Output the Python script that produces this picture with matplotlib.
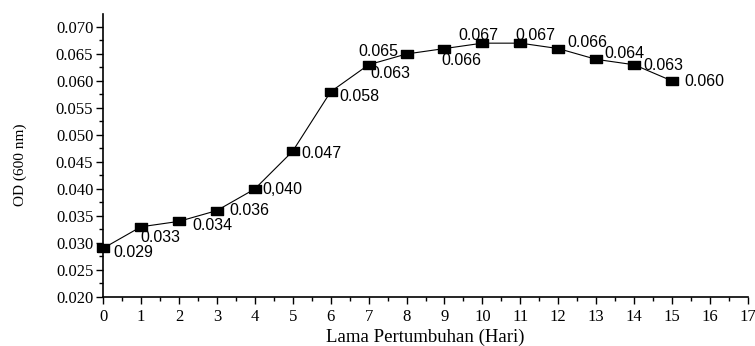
import matplotlib
matplotlib.use("Agg")
import matplotlib.pyplot as plt
from matplotlib.ticker import MultipleLocator

days = list(range(16))
od = [0.029, 0.033, 0.034, 0.036, 0.040, 0.047, 0.058, 0.063,
      0.065, 0.066, 0.067, 0.067, 0.066, 0.064, 0.063, 0.060]
point_labels = ["0.029", "0.033", "0.034", "0.036", "0,040", "0.047", "0.058", "0.063",
                "0.065", "0.066", "0.067", "0.067", "0.066", "0.064", "0.063", "0.060"]
x_ticks = list(range(18))
y_ticks = [0.020, 0.025, 0.030, 0.035, 0.040, 0.045, 0.050, 0.055, 0.060, 0.065, 0.070]

# label offsets in pixels (dx, dy) and horizontal alignment
offsets = [(10, -4, "left"), (-1, -11, "left"), (13, -4, "left"), (13, 0, "left"),
           (8, -1, "left"), (9, -2, "left"), (9, -5, "left"), (2, -9, "left"),
           (-8, 2, "right"), (-3, -12, "left"), (-24, 8, "left"), (-5, 8, "left"),
           (9, 6, "left"), (8, 6, "left"), (9, -1, "left"), (12, -1, "left")]

fig = plt.figure(figsize=(7.55, 3.46), dpi=100)
ax = fig.add_axes([103 / 755, 1 - 297 / 346, 645 / 755, 283 / 346])

rect = [(-1, -0.7), (1, -0.7), (1, 0.7), (-1, 0.7), (-1, -0.7)]
ax.plot(days, od, color="black", linewidth=0.8, marker=rect, markersize=8,
        markerfacecolor="black", markeredgecolor="black", clip_on=False, zorder=3)

for xv, yv, lab, (dx, dy, ha) in zip(days, od, point_labels, offsets):
    ax.annotate(lab, (xv, yv), xytext=(dx, dy), textcoords="offset pixels",
                ha=ha, va="center", fontsize=11.5, family="Liberation Sans")

ax.set_xlim(0, 17)
ax.set_ylim(0.020, 0.0724)
ax.set_xticks(x_ticks)
ax.set_yticks(y_ticks)
ax.set_yticklabels([f"{v:.3f}" for v in y_ticks])
ax.xaxis.set_minor_locator(MultipleLocator(0.5))
ax.yaxis.set_minor_locator(MultipleLocator(0.0025))
ax.tick_params(which="major", direction="out", length=5, width=1,
               labelsize=12, labelfontfamily="Liberation Serif")
ax.tick_params(axis="y", which="major", pad=2)
ax.tick_params(which="minor", direction="out", length=3, width=1)
for s in ("top", "right"):
    ax.spines[s].set_visible(False)
for s in ("left", "bottom"):
    ax.spines[s].set_linewidth(1.2)

ax.set_xlabel("Lama Pertumbuhan (Hari)", fontsize=13.5, family="Liberation Serif")
ax.xaxis.set_label_coords(0.5, -0.141)
ax.xaxis.label.set_va("center")
ax.set_ylabel("OD (600 nm)", fontsize=11, family="Liberation Serif")
ax.yaxis.set_label_coords(-0.129, 0.466)
ax.yaxis.label.set_va("center")

fig.savefig("out.png", dpi=100)
